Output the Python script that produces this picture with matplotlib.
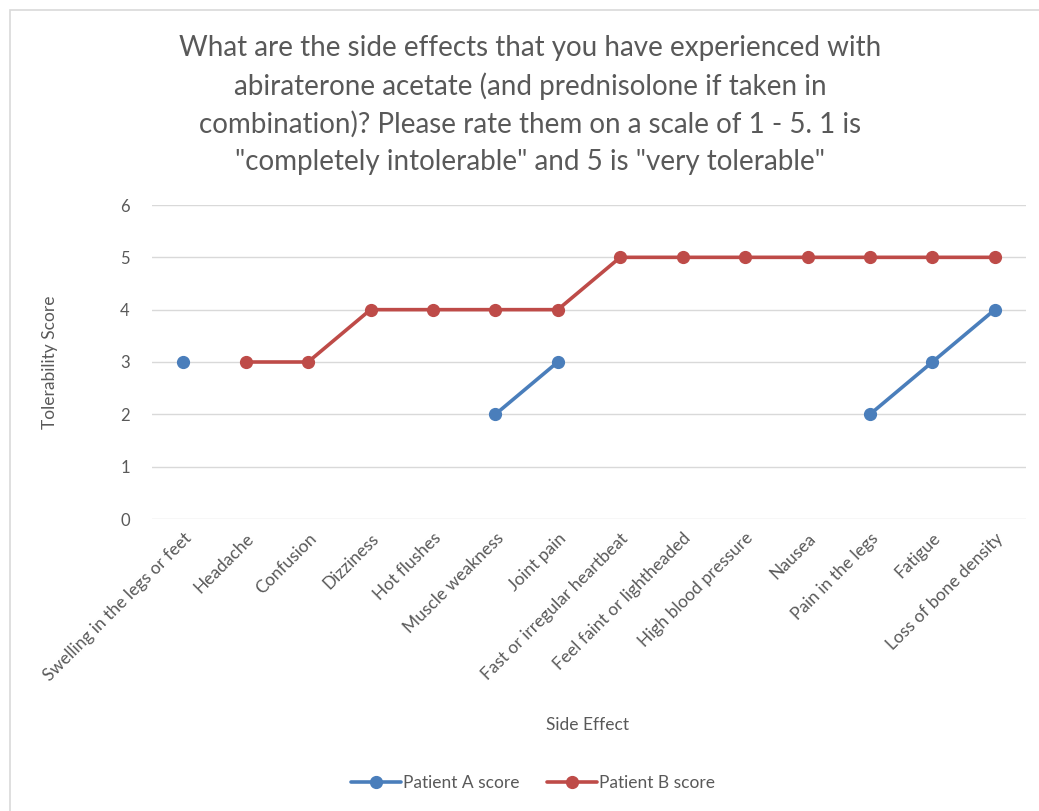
import numpy as np
import matplotlib.pyplot as plt
from matplotlib.patches import Rectangle

plt.rcParams['font.family'] = ['Lato', 'DejaVu Sans']

side_effects = [
    "Swelling in the legs or feet", "Headache", "Confusion", "Dizziness",
    "Hot flushes", "Muscle weakness", "Joint pain", "Fast or irregular heartbeat",
    "Feel faint or lightheaded", "High blood pressure", "Nausea",
    "Pain in the legs", "Fatigue", "Loss of bone density",
]
patient_a = [3, np.nan, np.nan, np.nan, np.nan, 2, 3, np.nan, np.nan, np.nan,
             np.nan, 2, 3, 4]
patient_b = [np.nan, 3, 3, 4, 4, 4, 4, 5, 5, 5, 5, 5, 5, 5]
y_ticks = [0, 1, 2, 3, 4, 5, 6]

title = ('What are the side effects that you have experienced with\n'
         'abiraterone acetate (and prednisolone if taken in\n'
         'combination)? Please rate them on a scale of 1 - 5. 1 is\n'
         '"completely intolerable" and 5 is "very tolerable"')

text_color = '#595959'
blue = '#4A7EBB'
red = '#BE4B48'

fig = plt.figure(figsize=(10.39, 8.11), dpi=100)
fig.patches.append(Rectangle((10 / 1039, -0.01), 1.02, 1 - 10 / 811 + 0.01,
                             transform=fig.transFigure, fill=False,
                             edgecolor='#d9d9d9', linewidth=1.2))

ax = fig.add_axes([152 / 1039, (811 - 519) / 811, (1026 - 152) / 1039,
                   (519 - 205) / 811])
x = np.arange(len(side_effects))
ax.plot(x, patient_a, color=blue, lw=2.6, marker='o', ms=8.5,
        label='Patient A score', solid_capstyle='round')
ax.plot(x, patient_b, color=red, lw=2.6, marker='o', ms=8.5,
        label='Patient B score', solid_capstyle='round')

ax.set_xlim(-0.5, len(side_effects) - 0.5)
ax.set_ylim(0, 6)
ax.set_yticks(y_ticks)
ax.set_xticks(x)
ax.set_xticklabels(side_effects, rotation=45, ha='right',
                   rotation_mode='anchor', fontsize=12.5)
ax.tick_params(axis='both', length=0, labelcolor=text_color)
ax.tick_params(axis='y', pad=16, labelsize=12)
ax.tick_params(axis='x', pad=8)
ax.grid(axis='y', color='#d9d9d9', lw=1)
ax.set_axisbelow(True)
for s in ax.spines.values():
    s.set_visible(False)

fig.text(530 / 1039, 1 - 105 / 811, title, ha='center', va='center',
         fontsize=20, color=text_color, linespacing=1.5)
fig.text(50 / 1039, 1 - 362 / 811, 'Tolerability Score', rotation=90,
         ha='center', va='center', fontsize=12.5, color=text_color)
fig.text(588 / 1039, 1 - 725 / 811, 'Side Effect', ha='center',
         va='center', fontsize=12.5, color=text_color)

fig.legend(loc='center', bbox_to_anchor=(533 / 1039, 1 - 783 / 811),
           ncol=2, frameon=False, fontsize=12.5, labelcolor=text_color,
           handlelength=2.9, handletextpad=0.1, columnspacing=1.6)

fig.savefig('out.png', dpi=100)
